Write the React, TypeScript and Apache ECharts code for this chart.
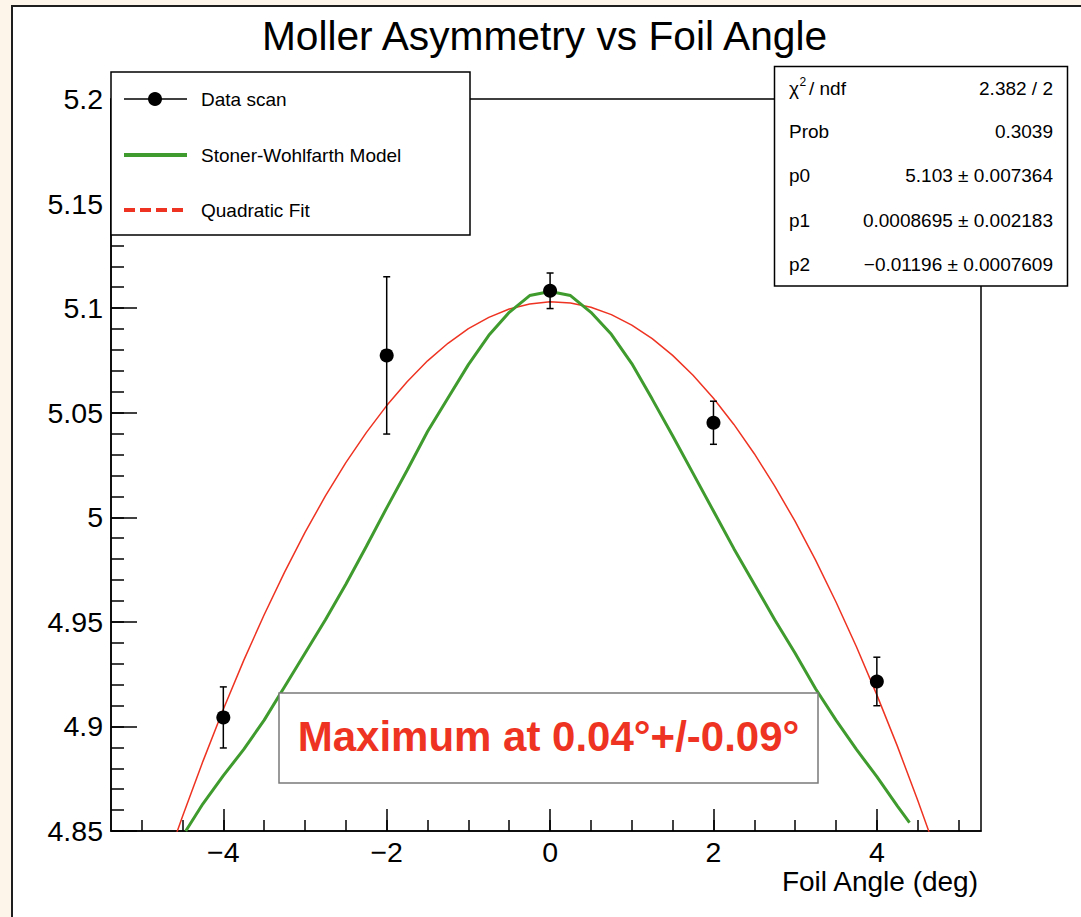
import { useEffect, useRef } from "react";
import * as echarts from "echarts";

// ---- data ----
const angles = [-4, -2, 0, 2, 4];
const asym = [4.9043, 5.0774, 5.1083, 5.0452, 4.9215];
const asymErr = [0.0146, 0.0376, 0.0085, 0.0103, 0.0116];

// Quadratic fit curve (red)
const fitX = [-4.6, -4.5, -4.25, -4.0, -3.75, -3.5, -3.25, -3.0, -2.75, -2.5, -2.25, -2.0, -1.75, -1.5, -1.25, -1.0, -0.75, -0.5, -0.25, 0, 0.25, 0.5, 0.75, 1.0, 1.25, 1.5, 1.75, 2.0, 2.25, 2.5, 2.75, 3.0, 3.25, 3.5, 3.75, 4.0, 4.25, 4.5, 4.7];
const fitY = [4.8459, 4.8569, 4.8833, 4.9082, 4.9316, 4.9534, 4.9738, 4.9928, 5.0102, 5.0261, 5.0405, 5.0534, 5.0648, 5.0748, 5.0832, 5.0902, 5.0956, 5.0996, 5.102, 5.103, 5.1025, 5.1004, 5.0969, 5.0919, 5.0854, 5.0774, 5.0679, 5.0569, 5.0444, 5.0304, 5.0149, 4.998, 4.9795, 4.9595, 4.9381, 4.9151, 4.8907, 4.8647, 4.8429];

// Stoner-Wohlfarth model curve (green)
const swX = [-4.46, -4.25, -4.0, -3.75, -3.5, -3.25, -3.0, -2.75, -2.5, -2.25, -2.0, -1.75, -1.5, -1.25, -1.0, -0.75, -0.5, -0.25, 0, 0.25, 0.5, 0.75, 1.0, 1.25, 1.5, 1.75, 2.0, 2.25, 2.5, 2.75, 3.0, 3.25, 3.5, 3.75, 4.0, 4.25, 4.4];
const swY = [4.85, 4.863, 4.8765, 4.889, 4.903, 4.919, 4.935, 4.951, 4.968, 4.986, 5.0045, 5.0225, 5.041, 5.057, 5.073, 5.087, 5.098, 5.106, 5.108, 5.106, 5.098, 5.0875, 5.0735, 5.0565, 5.039, 5.021, 5.003, 4.985, 4.968, 4.951, 4.935, 4.918, 4.903, 4.889, 4.876, 4.862, 4.854];

const xMajorTicks = [-4, -2, 0, 2, 4];
const xMinorTicks = [-5, -4.5, -4, -3.5, -3, -2.5, -2, -1.5, -1, -0.5, 0, 0.5, 1, 1.5, 2, 2.5, 3, 3.5, 4, 4.5, 5];
const yMajorTicks = [4.85, 4.9, 4.95, 5, 5.05, 5.1, 5.15, 5.2];
const yMinorTicks = [4.85, 4.86, 4.87, 4.88, 4.89, 4.9, 4.91, 4.92, 4.93, 4.94, 4.95, 4.96, 4.97, 4.98, 4.99, 5, 5.01, 5.02, 5.03, 5.04, 5.05, 5.06, 5.07, 5.08, 5.09, 5.1, 5.11, 5.12, 5.13, 5.14, 5.15, 5.16, 5.17, 5.18, 5.19, 5.2];

const titleText = "Moller Asymmetry vs Foil Angle";
const xTitle = "Foil Angle (deg)";
const legendLabels = ["Data scan", "Stoner-Wohlfarth Model", "Quadratic Fit"];
const statsNames = ["Prob", "p0", "p1", "p2"];
const statsValues = ["2.382 / 2", "0.3039", "5.103 ± 0.007364", "0.0008695 ± 0.002183", "\u22120.01196 ± 0.0007609"];
const noteText = "Maximum at 0.04°+/-0.09°";

const FONT = "'Liberation Sans', Arial, Helvetica, sans-serif";
const RED = "#EE3322";
const GREEN = "#3F9B2D";

export default function App() {
  const ref = useRef<HTMLDivElement>(null);

  useEffect(() => {
    if (!ref.current) return;
    const chart = echarts.init(ref.current, null, { renderer: "svg" });

    const fmtX = (v: number) => (v < 0 ? "\u2212" + Math.abs(v) : String(v));
    const fmtY = (v: number) => String(+(+v).toFixed(2));

    const tickStyle = { color: "#000", width: 1.5 };
    const xMin = -5.375, xMax = 5.275, yMin = 4.85, yMax = 5.2;

    const statsRowY = [88, 131.5, 175.5, 220, 264.5];

    const graphics: any[] = [
      // title
      { type: "text", x: 544.5, y: 36, z: 100, style: { text: titleText, fontSize: 40.7, fontFamily: FONT, fill: "#000", align: "center", verticalAlign: "middle" } },
      // x axis title
      { type: "text", x: 978, y: 881, z: 100, style: { text: xTitle, fontSize: 28, fontFamily: FONT, fill: "#000", align: "right", verticalAlign: "middle" } },
      // legend box
      { type: "rect", z: 100, shape: { x: 111, y: 72, width: 359, height: 163 }, style: { fill: "#fff", stroke: "#000", lineWidth: 1.5 } },
      { type: "line", z: 101, shape: { x1: 124, y1: 99, x2: 187, y2: 99 }, style: { stroke: "#000", lineWidth: 1.5 } },
      { type: "circle", z: 102, shape: { cx: 155, cy: 99, r: 7 }, style: { fill: "#000" } },
      { type: "line", z: 101, shape: { x1: 124, y1: 155, x2: 187, y2: 155 }, style: { stroke: GREEN, lineWidth: 4 } },
      { type: "line", z: 101, shape: { x1: 124, y1: 210, x2: 183, y2: 210 }, style: { stroke: RED, lineWidth: 4, lineDash: [11, 5] } },
      ...legendLabels.map((t, i) => ({ type: "text", z: 101, x: 201, y: [99, 155, 210][i], style: { text: t, fontSize: 19, fontFamily: FONT, fill: "#000", align: "left", verticalAlign: "middle" } })),
      // stats box
      { type: "rect", z: 100, shape: { x: 774.5, y: 66.5, width: 293, height: 219.5 }, style: { fill: "#fff", stroke: "#000", lineWidth: 1.5 } },
      { type: "text", z: 101, x: 789, y: statsRowY[0], style: { text: "\u03C7", fontSize: 19, fontFamily: FONT, fill: "#000", align: "left", verticalAlign: "middle" } },
      { type: "text", z: 101, x: 799.5, y: statsRowY[0] - 6, style: { text: "2", fontSize: 12, fontFamily: FONT, fill: "#000", align: "left", verticalAlign: "middle" } },
      { type: "text", z: 101, x: 809, y: statsRowY[0], style: { text: "/ ndf", fontSize: 19, fontFamily: FONT, fill: "#000", align: "left", verticalAlign: "middle" } },
      ...statsNames.map((t, i) => ({ type: "text", z: 101, x: 789, y: statsRowY[i + 1], style: { text: t, fontSize: 19, fontFamily: FONT, fill: "#000", align: "left", verticalAlign: "middle" } })),
      ...statsValues.map((t, i) => ({ type: "text", z: 101, x: 1053, y: statsRowY[i], style: { text: t, fontSize: 19, fontFamily: FONT, fill: "#000", align: "right", verticalAlign: "middle" } })),
      // annotation box
      { type: "rect", z: 100, shape: { x: 279, y: 693, width: 539, height: 90 }, style: { fill: "#fff", stroke: "#7a7a7a", lineWidth: 1.5 } },
      { type: "text", z: 101, x: 548.5, y: 736, style: { text: noteText, fontSize: 42, fontWeight: "bold", fontFamily: FONT, fill: RED, align: "center", verticalAlign: "middle" } },
    ];

    chart.setOption({
      animation: false,
      backgroundColor: "transparent",
      grid: { left: 111, top: 99, width: 870, height: 732, show: true, borderColor: "#000", borderWidth: 1.5, backgroundColor: "transparent", containLabel: false },
      xAxis: [
        {
          type: "value", min: xMin, max: xMax, position: "bottom",
          axisLine: { show: true, onZero: false, lineStyle: { color: "#000", width: 1.5 } },
          axisTick: { show: true, inside: true, length: 22, customValues: xMajorTicks, lineStyle: tickStyle },
          axisLabel: { show: true, customValues: xMajorTicks, formatter: fmtX, fontSize: 28.5, fontFamily: FONT, color: "#000", margin: 6 },
          splitLine: { show: false },
        },
        {
          type: "value", min: xMin, max: xMax, position: "bottom",
          axisLine: { show: false, onZero: false },
          axisTick: { show: true, inside: true, length: 11, customValues: xMinorTicks, lineStyle: tickStyle },
          axisLabel: { show: false },
          splitLine: { show: false },
        },
      ],
      yAxis: [
        {
          type: "value", min: yMin, max: yMax, position: "left",
          axisLine: { show: true, onZero: false, lineStyle: { color: "#000", width: 1.5 } },
          axisTick: { show: true, inside: true, length: 26, customValues: yMajorTicks, lineStyle: tickStyle },
          axisLabel: { show: true, customValues: yMajorTicks, formatter: fmtY, fontSize: 28.5, fontFamily: FONT, color: "#000", margin: 8 },
          splitLine: { show: false },
        },
        {
          type: "value", min: yMin, max: yMax, position: "left",
          axisLine: { show: false, onZero: false },
          axisTick: { show: true, inside: true, length: 13, customValues: yMinorTicks, lineStyle: tickStyle },
          axisLabel: { show: false },
          splitLine: { show: false },
        },
      ],
      series: [
        {
          name: "Quadratic Fit", type: "line", xAxisIndex: 0, yAxisIndex: 0, z: 2,
          data: fitX.map((x, i) => [x, fitY[i]]), showSymbol: false, symbol: "none", clip: true,
          lineStyle: { color: RED, width: 1.5 },
        },
        {
          name: "Stoner-Wohlfarth Model", type: "line", xAxisIndex: 0, yAxisIndex: 0, z: 3,
          data: swX.map((x, i) => [x, swY[i]]), showSymbol: false, symbol: "none", clip: true,
          lineStyle: { color: GREEN, width: 3 },
        },
        {
          name: "errors", type: "custom", xAxisIndex: 0, yAxisIndex: 0, z: 4,
          data: angles.map((a, i) => [a, asym[i], asymErr[i]]),
          encode: { x: 0, y: 1 },
          renderItem: (_p: any, api: any) => {
            const x = api.value(0), y = api.value(1), e = api.value(2);
            const t = api.coord([x, y + e]);
            const b = api.coord([x, y - e]);
            const c = 3.5;
            const st = { stroke: "#000", lineWidth: 1.5 };
            return {
              type: "group",
              children: [
                { type: "line", shape: { x1: t[0], y1: t[1], x2: b[0], y2: b[1] }, style: st },
                { type: "line", shape: { x1: t[0] - c, y1: t[1], x2: t[0] + c, y2: t[1] }, style: st },
                { type: "line", shape: { x1: b[0] - c, y1: b[1], x2: b[0] + c, y2: b[1] }, style: st },
              ],
            };
          },
        },
        {
          name: "Data scan", type: "scatter", xAxisIndex: 0, yAxisIndex: 0, z: 5,
          data: angles.map((a, i) => [a, asym[i]]), symbol: "circle", symbolSize: 14,
          itemStyle: { color: "#000", opacity: 1 },
        },
      ],
      graphic: graphics,
    });

    return () => chart.dispose();
  }, []);

  return (
    <div style={{ position: "fixed", left: 0, top: 0, width: 1081, height: 917, background: "#FDF5E9", overflow: "hidden" }}>
      <div style={{ position: "absolute", left: 11, top: 5, width: 1100, height: 950, background: "#fff", borderLeft: "2px solid #1e1e1e", borderTop: "2px solid #1e1e1e" }} />
      <div ref={ref} style={{ position: "absolute", left: 0, top: 0, width: 1081, height: 917 }} />
    </div>
  );
}
